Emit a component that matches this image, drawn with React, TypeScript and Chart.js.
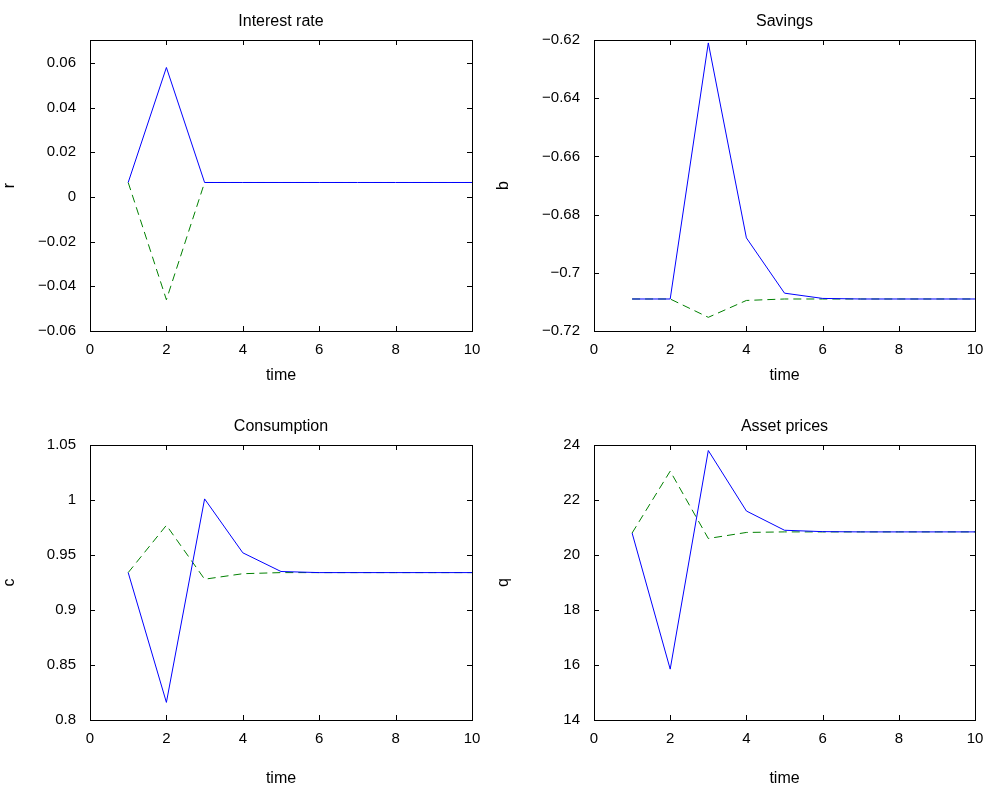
import React, { useEffect, useRef } from 'react';
import { Chart, registerables } from 'chart.js';

Chart.register(...registerables);

const times = [1, 2, 3, 4, 5, 6, 7, 8, 9, 10];

const rateSolid = [0.0065, 0.058, 0.0065, 0.0065, 0.0065, 0.0065, 0.0065, 0.0065, 0.0065, 0.0065];
const rateDashed = [0.0065, -0.046, 0.0065, 0.0065, 0.0065, 0.0065, 0.0065, 0.0065, 0.0065, 0.0065];
const savSolid = [-0.709, -0.709, -0.621, -0.688, -0.707, -0.7088, -0.709, -0.709, -0.709, -0.709];
const savDashed = [-0.709, -0.709, -0.7153, -0.7095, -0.709, -0.709, -0.709, -0.709, -0.709, -0.709];
const consSolid = [0.934, 0.816, 1.001, 0.952, 0.935, 0.934, 0.934, 0.934, 0.934, 0.934];
const consDashed = [0.934, 0.977, 0.928, 0.933, 0.934, 0.934, 0.934, 0.934, 0.934, 0.934];
const qSolid = [20.8, 15.85, 23.8, 21.6, 20.9, 20.85, 20.84, 20.84, 20.84, 20.84];
const qDashed = [20.8, 23.05, 20.6, 20.82, 20.84, 20.84, 20.84, 20.84, 20.84, 20.84];

const FONT = '"Liberation Sans", Arial, sans-serif';

interface PanelProps {
  title: string;
  ylabel: string;
  solid: number[];
  dashed: number[];
  ymin: number;
  ymax: number;
  step: number;
  left: number;
  top: number;
  height: number;
  areaLeft: number;
  padRight: number;
  fmt: (v: number) => string;
}

const boxPlugin = {
  id: 'box',
  afterDraw(chart: any) {
    const { ctx, chartArea: a, scales } = chart;
    ctx.save();
    ctx.strokeStyle = '#000';
    ctx.lineWidth = 1;
    ctx.strokeRect(a.left + 0.5, a.top + 0.5, a.right - a.left, a.bottom - a.top);
    ctx.beginPath();
    scales.x.ticks.forEach((t: any) => {
      const px = Math.round(scales.x.getPixelForValue(t.value)) + 0.5;
      ctx.moveTo(px, a.bottom); ctx.lineTo(px, a.bottom - 5);
      ctx.moveTo(px, a.top); ctx.lineTo(px, a.top + 5);
    });
    scales.y.ticks.forEach((t: any) => {
      const py = Math.round(scales.y.getPixelForValue(t.value)) + 0.5;
      ctx.moveTo(a.left, py); ctx.lineTo(a.left + 5, py);
      ctx.moveTo(a.right, py); ctx.lineTo(a.right - 5, py);
    });
    ctx.stroke();
    ctx.fillStyle = '#000';
    ctx.font = `16px ${FONT}`;
    ctx.textAlign = 'center';
    ctx.textBaseline = 'alphabetic';
    ctx.fillText(chart.options.plugins.box.title, (a.left + a.right) / 2, a.top - 14);
    ctx.restore();
  }
};

const Panel: React.FC<PanelProps> = (p) => {
  const ref = useRef<HTMLCanvasElement>(null);
  useEffect(() => {
    const ctx = ref.current?.getContext('2d');
    if (!ctx) return;
    const isTop = p.height === 395;
    const areaBottom = isTop ? 331 : 315;
    const padBottom = isTop ? 10 : 3;
    const chart = new Chart(ctx, {
      type: 'line',
      data: {
        datasets: [
          {
            data: times.map((t, i) => ({ x: t, y: p.solid[i] })),
            borderColor: '#0000ff',
            borderWidth: 1,
            pointRadius: 0,
            fill: false
          },
          {
            data: times.map((t, i) => ({ x: t, y: p.dashed[i] })),
            borderColor: '#008000',
            borderWidth: 1,
            borderDash: [8, 5],
            pointRadius: 0,
            fill: false
          }
        ]
      },
      options: {
        animation: false,
        responsive: false,
        layout: { padding: { top: 40, right: p.padRight, left: 0, bottom: padBottom } },
        plugins: { legend: { display: false }, tooltip: { enabled: false }, box: { title: p.title } } as any,
        scales: {
          x: {
            type: 'linear',
            min: 0,
            max: 10,
            ticks: { stepSize: 2, color: '#000', font: { family: FONT, size: 15 }, padding: 2 },
            grid: { display: false },
            border: { display: false },
            title: { display: true, text: 'time', color: '#000', font: { family: FONT, size: 16 }, padding: 0 },
            afterFit: (s: any) => { s.height = p.height - areaBottom - padBottom; }
          },
          y: {
            min: p.ymin,
            max: p.ymax,
            ticks: {
              stepSize: p.step,
              color: '#000',
              font: { family: FONT, size: 15 },
              padding: 6,
              callback: (v: any) => p.fmt(Number(v))
            },
            grid: { display: false },
            border: { display: false },
            title: { display: true, text: p.ylabel, color: '#000', font: { family: FONT, size: 16 }, padding: 0 },
            afterBuildTicks: (s: any) => {
              s.ticks = s.ticks.filter((t: any) => {
                const k = (t.value - p.ymin) / p.step;
                return Math.abs(k - Math.round(k)) < 1e-6;
              });
            },
            afterFit: (s: any) => { s.width = p.areaLeft; }
          }
        }
      },
      plugins: [boxPlugin]
    });
    return () => chart.destroy();
  }, []);
  return (
    <canvas
      ref={ref}
      width={494}
      height={p.height}
      style={{ position: 'absolute', left: p.left, top: p.top, width: 494, height: p.height }}
    />
  );
};

const fmtMinus = (d: number) => (v: number) => {
  const r = Number(v.toFixed(d));
  const s = r === 0 ? '0' : String(Math.abs(r));
  return r < 0 ? '\u2212' + s : s;
};

export default function App() {
  return (
    <div style={{ position: 'absolute', left: 0, top: 0, width: 988, height: 791, background: '#fff' }}>
      <Panel title="Interest rate" ylabel="r" solid={rateSolid} dashed={rateDashed} ymin={-0.06} ymax={0.0703} step={0.02}
        left={0} top={0} height={395} areaLeft={90} padRight={22} fmt={fmtMinus(2)} />
      <Panel title="Savings" ylabel="b" solid={savSolid} dashed={savDashed} ymin={-0.72} ymax={-0.62} step={0.02}
        left={494} top={0} height={395} areaLeft={100} padRight={13} fmt={fmtMinus(2)} />
      <Panel title="Consumption" ylabel="c" solid={consSolid} dashed={consDashed} ymin={0.8} ymax={1.05} step={0.05}
        left={0} top={405} height={386} areaLeft={90} padRight={22} fmt={fmtMinus(2)} />
      <Panel title="Asset prices" ylabel="q" solid={qSolid} dashed={qDashed} ymin={14} ymax={24} step={2}
        left={494} top={405} height={386} areaLeft={100} padRight={13} fmt={fmtMinus(0)} />
    </div>
  );
}
